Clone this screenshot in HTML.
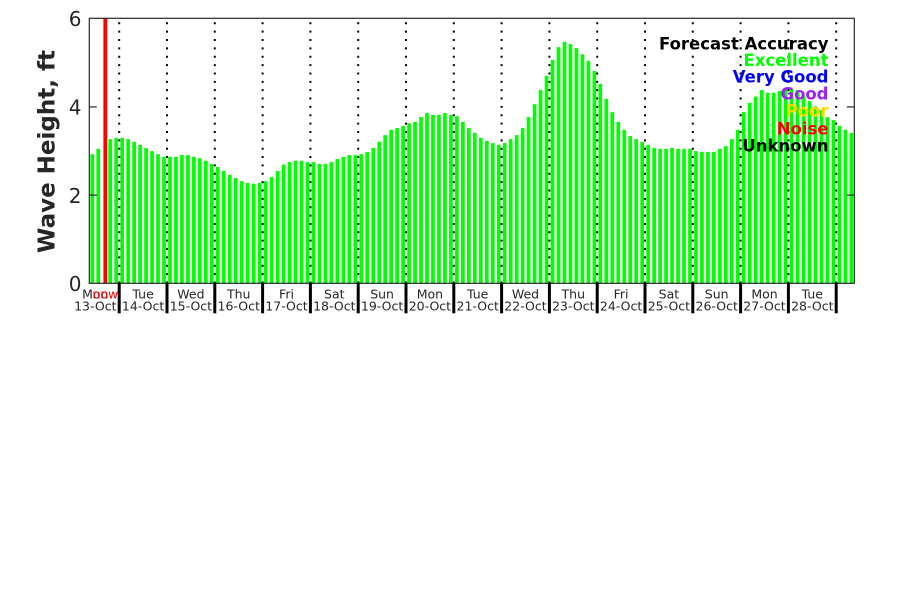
<!DOCTYPE html>
<html><head><meta charset="utf-8"><style>
html,body{margin:0;padding:0;background:#fff;}
svg{display:block;}
text{font-family:"DejaVu Sans","Liberation Sans",sans-serif;}
</style></head><body>
<svg width="900" height="600" viewBox="0 0 900 600" xmlns="http://www.w3.org/2000/svg">
<rect width="900" height="600" fill="#fff"/>
<g fill="#00ff00" transform="translate(90.44 283.3) scale(5.977 -44.22)">
<rect x="0" width=".62" height="2.92"/><rect x="1" width=".62" height="3.04"/>
<rect x="3" width=".62" height="3.26"/><rect x="4" width=".62" height="3.29"/><rect x="5" width=".62" height="3.29"/><rect x="6" width=".62" height="3.26"/><rect x="7" width=".62" height="3.20"/><rect x="8" width=".62" height="3.13"/><rect x="9" width=".62" height="3.06"/>
<rect x="10" width=".62" height="2.99"/><rect x="11" width=".62" height="2.92"/><rect x="12" width=".62" height="2.86"/><rect x="13" width=".62" height="2.86"/><rect x="14" width=".62" height="2.86"/><rect x="15" width=".62" height="2.90"/><rect x="16" width=".62" height="2.90"/><rect x="17" width=".62" height="2.86"/><rect x="18" width=".62" height="2.83"/><rect x="19" width=".62" height="2.77"/>
<rect x="20" width=".62" height="2.70"/><rect x="21" width=".62" height="2.63"/><rect x="22" width=".62" height="2.54"/><rect x="23" width=".62" height="2.45"/><rect x="24" width=".62" height="2.38"/><rect x="25" width=".62" height="2.31"/><rect x="26" width=".62" height="2.27"/><rect x="27" width=".62" height="2.25"/><rect x="28" width=".62" height="2.27"/><rect x="29" width=".62" height="2.31"/>
<rect x="30" width=".62" height="2.40"/><rect x="31" width=".62" height="2.54"/><rect x="32" width=".62" height="2.68"/><rect x="33" width=".62" height="2.74"/><rect x="34" width=".62" height="2.77"/><rect x="35" width=".62" height="2.77"/><rect x="36" width=".62" height="2.74"/><rect x="37" width=".62" height="2.74"/><rect x="38" width=".62" height="2.70"/><rect x="39" width=".62" height="2.70"/>
<rect x="40" width=".62" height="2.74"/><rect x="41" width=".62" height="2.81"/><rect x="42" width=".62" height="2.86"/><rect x="43" width=".62" height="2.90"/><rect x="44" width=".62" height="2.90"/><rect x="45" width=".62" height="2.92"/><rect x="46" width=".62" height="2.97"/><rect x="47" width=".62" height="3.06"/><rect x="48" width=".62" height="3.20"/><rect x="49" width=".62" height="3.35"/>
<rect x="50" width=".62" height="3.47"/><rect x="51" width=".62" height="3.51"/><rect x="52" width=".62" height="3.56"/><rect x="53" width=".62" height="3.62"/><rect x="54" width=".62" height="3.65"/><rect x="55" width=".62" height="3.76"/><rect x="56" width=".62" height="3.85"/><rect x="57" width=".62" height="3.81"/><rect x="58" width=".62" height="3.81"/><rect x="59" width=".62" height="3.85"/>
<rect x="60" width=".62" height="3.81"/><rect x="61" width=".62" height="3.78"/><rect x="62" width=".62" height="3.65"/><rect x="63" width=".62" height="3.51"/><rect x="64" width=".62" height="3.40"/><rect x="65" width=".62" height="3.29"/><rect x="66" width=".62" height="3.22"/><rect x="67" width=".62" height="3.17"/><rect x="68" width=".62" height="3.13"/><rect x="69" width=".62" height="3.17"/>
<rect x="70" width=".62" height="3.26"/><rect x="71" width=".62" height="3.35"/><rect x="72" width=".62" height="3.51"/><rect x="73" width=".62" height="3.76"/><rect x="74" width=".62" height="4.05"/><rect x="75" width=".62" height="4.37"/><rect x="76" width=".62" height="4.69"/><rect x="77" width=".62" height="5.05"/><rect x="78" width=".62" height="5.34"/><rect x="79" width=".62" height="5.46"/>
<rect x="80" width=".62" height="5.41"/><rect x="81" width=".62" height="5.32"/><rect x="82" width=".62" height="5.18"/><rect x="83" width=".62" height="5.03"/><rect x="84" width=".62" height="4.80"/><rect x="85" width=".62" height="4.51"/><rect x="86" width=".62" height="4.17"/><rect x="87" width=".62" height="3.87"/><rect x="88" width=".62" height="3.65"/><rect x="89" width=".62" height="3.47"/>
<rect x="90" width=".62" height="3.33"/><rect x="91" width=".62" height="3.26"/><rect x="92" width=".62" height="3.20"/><rect x="93" width=".62" height="3.13"/><rect x="94" width=".62" height="3.06"/><rect x="95" width=".62" height="3.04"/><rect x="96" width=".62" height="3.04"/><rect x="97" width=".62" height="3.06"/><rect x="98" width=".62" height="3.04"/><rect x="99" width=".62" height="3.04"/>
<rect x="100" width=".62" height="3.04"/><rect x="101" width=".62" height="2.99"/><rect x="102" width=".62" height="2.97"/><rect x="103" width=".62" height="2.97"/><rect x="104" width=".62" height="2.97"/><rect x="105" width=".62" height="3.04"/><rect x="106" width=".62" height="3.10"/><rect x="107" width=".62" height="3.26"/><rect x="108" width=".62" height="3.47"/><rect x="109" width=".62" height="3.87"/>
<rect x="110" width=".62" height="4.08"/><rect x="111" width=".62" height="4.22"/><rect x="112" width=".62" height="4.37"/><rect x="113" width=".62" height="4.31"/><rect x="114" width=".62" height="4.31"/><rect x="115" width=".62" height="4.35"/><rect x="116" width=".62" height="4.40"/><rect x="117" width=".62" height="4.40"/><rect x="118" width=".62" height="4.37"/><rect x="119" width=".62" height="4.25"/>
<rect x="120" width=".62" height="4.12"/><rect x="121" width=".62" height="4.00"/><rect x="122" width=".62" height="3.92"/><rect x="123" width=".62" height="3.76"/><rect x="124" width=".62" height="3.69"/><rect x="125" width=".62" height="3.56"/><rect x="126" width=".62" height="3.47"/><rect x="127" width=".62" height="3.40"/>
</g>
<!-- now line -->
<rect x="103.4" y="18.3" width="3.8" height="265" fill="#ff0000"/>
<!-- dotted day lines -->
<g stroke="#000" stroke-width="2" stroke-dasharray="2 6.36">
<line x1="119.2" y1="22.3" x2="119.2" y2="283.3"/><line x1="167.0" y1="22.3" x2="167.0" y2="283.3"/><line x1="214.8" y1="22.3" x2="214.8" y2="283.3"/><line x1="262.6" y1="22.3" x2="262.6" y2="283.3"/>
<line x1="310.4" y1="22.3" x2="310.4" y2="283.3"/><line x1="358.2" y1="22.3" x2="358.2" y2="283.3"/><line x1="406.0" y1="22.3" x2="406.0" y2="283.3"/><line x1="453.8" y1="22.3" x2="453.8" y2="283.3"/>
<line x1="501.6" y1="22.3" x2="501.6" y2="283.3"/><line x1="549.4" y1="22.3" x2="549.4" y2="283.3"/><line x1="597.2" y1="22.3" x2="597.2" y2="283.3"/><line x1="645.0" y1="22.3" x2="645.0" y2="283.3"/>
<line x1="692.8" y1="22.3" x2="692.8" y2="283.3"/><line x1="740.6" y1="22.3" x2="740.6" y2="283.3"/><line x1="788.4" y1="22.3" x2="788.4" y2="283.3"/><line x1="836.2" y1="22.3" x2="836.2" y2="283.3"/>
</g>
<!-- axes box -->
<rect x="89.3" y="18.3" width="765" height="265" fill="none" stroke="#262626" stroke-width="1.2"/>
<g stroke="#262626" stroke-width="1.2">
<line x1="89.3" y1="106.9" x2="96.8" y2="106.9"/><line x1="89.3" y1="195.1" x2="96.8" y2="195.1"/>
<line x1="846.8" y1="106.9" x2="854.3" y2="106.9"/><line x1="846.8" y1="195.1" x2="854.3" y2="195.1"/>
</g>
<!-- thick day ticks below axis -->
<g stroke="#000" stroke-width="3">
<line x1="119.2" y1="283.3" x2="119.2" y2="313.3"/><line x1="167.0" y1="283.3" x2="167.0" y2="313.3"/><line x1="214.8" y1="283.3" x2="214.8" y2="313.3"/><line x1="262.6" y1="283.3" x2="262.6" y2="313.3"/>
<line x1="310.4" y1="283.3" x2="310.4" y2="313.3"/><line x1="358.2" y1="283.3" x2="358.2" y2="313.3"/><line x1="406.0" y1="283.3" x2="406.0" y2="313.3"/><line x1="453.8" y1="283.3" x2="453.8" y2="313.3"/>
<line x1="501.6" y1="283.3" x2="501.6" y2="313.3"/><line x1="549.4" y1="283.3" x2="549.4" y2="313.3"/><line x1="597.2" y1="283.3" x2="597.2" y2="313.3"/><line x1="645.0" y1="283.3" x2="645.0" y2="313.3"/>
<line x1="692.8" y1="283.3" x2="692.8" y2="313.3"/><line x1="740.6" y1="283.3" x2="740.6" y2="313.3"/><line x1="788.4" y1="283.3" x2="788.4" y2="313.3"/><line x1="836.2" y1="283.3" x2="836.2" y2="313.3"/>
</g>
<!-- y tick labels -->
<g font-size="20" fill="#262626" text-anchor="end">
<text x="81.5" y="26.1">6</text><text x="81.5" y="114.7">4</text><text x="81.5" y="202.9">2</text><text x="81.5" y="291.1">0</text>
</g>
<text transform="translate(54.5 151.5) rotate(-90)" text-anchor="middle" font-size="23" font-weight="bold" fill="#262626">Wave Height, ft</text>
<!-- x labels -->
<g font-size="12.5" fill="#262626" text-anchor="middle">
<text x="95.3" y="298.7">Mon</text><text x="95.3" y="310.7">13-Oct</text>
<text x="143.1" y="298.7">Tue</text><text x="143.1" y="310.7">14-Oct</text>
<text x="190.9" y="298.7">Wed</text><text x="190.9" y="310.7">15-Oct</text>
<text x="238.7" y="298.7">Thu</text><text x="238.7" y="310.7">16-Oct</text>
<text x="286.5" y="298.7">Fri</text><text x="286.5" y="310.7">17-Oct</text>
<text x="334.3" y="298.7">Sat</text><text x="334.3" y="310.7">18-Oct</text>
<text x="382.1" y="298.7">Sun</text><text x="382.1" y="310.7">19-Oct</text>
<text x="429.9" y="298.7">Mon</text><text x="429.9" y="310.7">20-Oct</text>
<text x="477.7" y="298.7">Tue</text><text x="477.7" y="310.7">21-Oct</text>
<text x="525.5" y="298.7">Wed</text><text x="525.5" y="310.7">22-Oct</text>
<text x="573.3" y="298.7">Thu</text><text x="573.3" y="310.7">23-Oct</text>
<text x="621.1" y="298.7">Fri</text><text x="621.1" y="310.7">24-Oct</text>
<text x="668.9" y="298.7">Sat</text><text x="668.9" y="310.7">25-Oct</text>
<text x="716.7" y="298.7">Sun</text><text x="716.7" y="310.7">26-Oct</text>
<text x="764.5" y="298.7">Mon</text><text x="764.5" y="310.7">27-Oct</text>
<text x="812.3" y="298.7">Tue</text><text x="812.3" y="310.7">28-Oct</text>
<text x="105.3" y="298.7" fill="#ff0000">now</text>
</g>
<!-- legend -->
<g font-size="16.5" font-weight="bold" text-anchor="end">
<text x="828.5" y="49.3" fill="#000">Forecast Accuracy</text>
<text x="828.5" y="66" fill="#00ff00">Excellent</text>
<text x="828.5" y="82.7" fill="#0000ff">Very Good</text>
<text x="828.5" y="99.3" fill="#a020f0">Good</text>
<text x="828.5" y="116.7" fill="#ffd700">Poor</text>
<text x="828.5" y="134.3" fill="#ff0000">Noise</text>
<text x="828.5" y="151.7" fill="#000">Unknown</text>
</g>
</svg>
</body></html>
